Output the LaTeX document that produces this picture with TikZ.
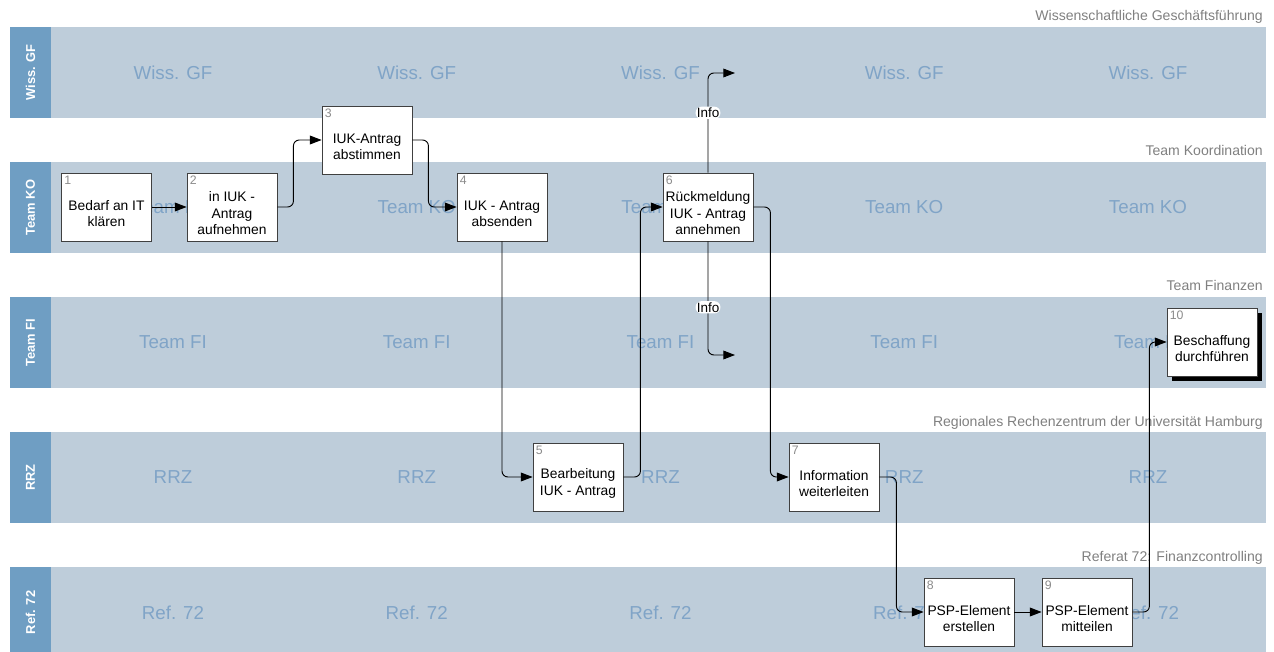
\documentclass[tikz,border=0pt]{standalone}
\usepackage{fontspec}
\setmainfont{Liberation Sans}
\usetikzlibrary{arrows.meta,shadows}
\definecolor{LaneBody}{RGB}{190,205,218}
\definecolor{LaneHead}{RGB}{111,158,195}
\definecolor{LaneMark}{RGB}{128,164,199}
\definecolor{TitleGray}{RGB}{128,128,128}
\newcommand\SwimLane[4]{%
    \fill[LaneBody] (51,#1) rectangle (1266,#1+91);
    \fill[LaneHead] (10,#1) rectangle (51,#1+91);
    \node[HeadText] (#4Head) at (30.5,#1+45.5) {#2};
    \foreach \i in {0,...,4}
        \node[MarkText] (#4Mark\i) at (173+243.75*\i,#1+45.5) {#2};
    \node[TitleText] (#4Title) at (1263,#1-6) {#3};
}
\newcommand\StepText[1]{\rule{0pt}{19.5pt}#1}

\begin{document}
\begin{tikzpicture}[x=0.03cm,y=-0.03cm,
    >={Triangle[length=10pt,width=7.5pt]},
    HeadText/.style={rotate=90,text=white,font=\bfseries\fontsize{11}{13}\selectfont},
    MarkText/.style={text=LaneMark,font=\fontsize{16}{19}\selectfont},
    TitleText/.style={anchor=base east,inner sep=0pt,text=TitleGray,font=\fontsize{12}{14}\selectfont},
    NumText/.style={anchor=north west,inner sep=2.5pt,text=black!45,font=\fontsize{10.5}{12}\selectfont},
    StepBox/.style={draw=black!75,fill=white,line width=0.7pt,minimum width=2.7cm,minimum height=2.04cm,
        align=center,inner sep=1pt,font=\fontsize{11.8}{14}\selectfont,label={[NumText]north west:#1}},
    Flow/.style={->,line width=0.8pt,rounded corners=5pt},
    InfoText/.style={fill=white,inner sep=1pt,font=\fontsize{11.5}{13}\selectfont}]
    \useasboundingbox (0,0) rectangle (1274,652);
    \SwimLane{27}{Wiss. GF}{Wissenschaftliche Geschäftsführung}{Gf}
    \SwimLane{162}{Team KO}{Team Koordination}{Ko}
    \SwimLane{297}{Team FI}{Team Finanzen}{Fi}
    \SwimLane{432}{RRZ}{Regionales Rechenzentrum der Universität Hamburg}{Rrz}
    \SwimLane{567}{Ref. 72}{Referat 72: Finanzcontrolling}{Ref}

    \node[StepBox=1] (Klaeren) at (106.5,207) {\StepText{Bedarf an IT\\klären}};
    \node[StepBox=2] (Aufnehmen) at (232,207) {\StepText{in IUK -\\Antrag\\aufnehmen}};
    \node[StepBox=3] (Abstimmen) at (367,140) {\StepText{IUK-Antrag\\abstimmen}};
    \node[StepBox=4] (Absenden) at (502,207) {\StepText{IUK - Antrag\\absenden}};
    \node[StepBox=5] (Bearbeitung) at (578,477) {\StepText{Bearbeitung\\IUK - Antrag}};
    \node[StepBox=6] (Rueckmeldung) at (708,207) {\StepText{Rückmeldung\\IUK - Antrag\\annehmen}};
    \node[StepBox=7] (Weiterleiten) at (834,477) {\StepText{Information\\weiterleiten}};
    \node[StepBox=8] (PspErstellen) at (969,612) {\StepText{PSP-Element\\erstellen}};
    \node[StepBox=9] (PspMitteilen) at (1087,612) {\StepText{PSP-Element\\mitteilen}};
    \node[StepBox=10,drop shadow={shadow xshift=4.3pt,shadow yshift=-4.3pt,fill=black,opacity=1}]
        (Beschaffung) at (1212,342) {\StepText{Beschaffung\\durchführen}};
    \coordinate (InfoGf) at (735,73);
    \coordinate (InfoFi) at (735,355);

    \draw[Flow] (Klaeren) -- (Aufnehmen);
    \draw[Flow] (Aufnehmen.east) -- ++(16,0) |- (Abstimmen.west);
    \draw[Flow] (Abstimmen.east) -- ++(16,0) |- (Absenden.west);
    \draw[Flow] (Absenden.south) |- (Bearbeitung.west);
    \draw[Flow] (Bearbeitung.east) -- ++(17,0) |- (Rueckmeldung.west);
    \draw[Flow] (Rueckmeldung.north) |- node[InfoText,pos=0.3] (InfoUp) {Info} (InfoGf);
    \draw[Flow] (Rueckmeldung.south) |- node[InfoText,pos=0.29] (InfoDown) {Info} (InfoFi);
    \draw[Flow] (Rueckmeldung.east) -- ++(17,0) |- (Weiterleiten.west);
    \draw[Flow] (Weiterleiten.east) -- ++(17,0) |- (PspErstellen.west);
    \draw[Flow] (PspErstellen) -- (PspMitteilen);
    \draw[Flow] (PspMitteilen.east) -- ++(17,0) |- (Beschaffung.west);
\end{tikzpicture}
\end{document}
